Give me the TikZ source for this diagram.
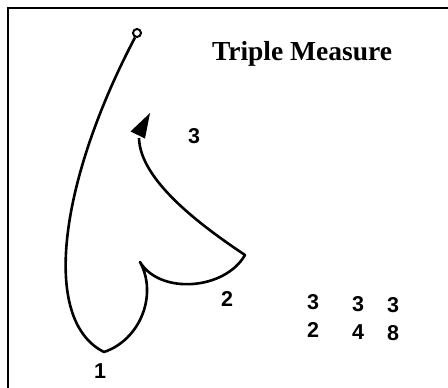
\documentclass[tikz,border=0pt]{standalone}
\usepackage{fontspec}
\setmainfont{Liberation Serif}
\newfontfamily\digitfont{Liberation Sans}
\tikzset{
  frameline/.style={line width=2.2pt},
  beatpath/.style={line width=2.6pt, line join=round},
  beatnum/.style={inner sep=0pt, font=\digitfont\bfseries\fontsize{21.5}{21.5}\selectfont},
  titletext/.style={inner sep=0pt, anchor=base, font=\bfseries\fontsize{27.5}{27.5}\selectfont}
}
\begin{document}
\begin{tikzpicture}[x=1pt,y=-1pt]
\useasboundingbox (0,0) rectangle (448,388);
\fill[white] (0,0) rectangle (448,388);
% frame
\draw[frameline] (8,390) -- (8,8) -- (450,8);
% start circle
\draw[line width=2pt] (137,33) circle (4);
\coordinate (start) at (135,37.5);
\coordinate (c1) at (104,352);
\coordinate (c2) at (140,262);
\coordinate (c3) at (245,255);
\coordinate (endp) at (139,138);
\draw[beatpath] (start) .. controls (60,180) and (40,320) .. (c1)
  .. controls (140,340) and (158,295) .. (c2)
  .. controls (160,295) and (225,290) .. (c3)
  .. controls (200,225) and (140,180) .. (endp);
% arrowhead
\fill (150,113) -- (130.5,131.5) -- (145,138.5) -- cycle;
% title
\node[titletext] (title) at (302,60) {Triple Measure};
% beat numbers
\node[beatnum] (n1) at (100,371) {1};
\node[beatnum] (n2) at (227,299) {2};
\node[beatnum] (n3) at (194,136) {3};
% time signatures
\node[beatnum] (a1) at (313,302) {3};
\node[beatnum] (a2) at (313,330) {2};
\node[beatnum] (b1) at (358,304) {3};
\node[beatnum] (b2) at (358,332) {4};
\node[beatnum] (d1) at (393,305) {3};
\node[beatnum] (d2) at (393,333) {8};
\end{tikzpicture}
\end{document}
